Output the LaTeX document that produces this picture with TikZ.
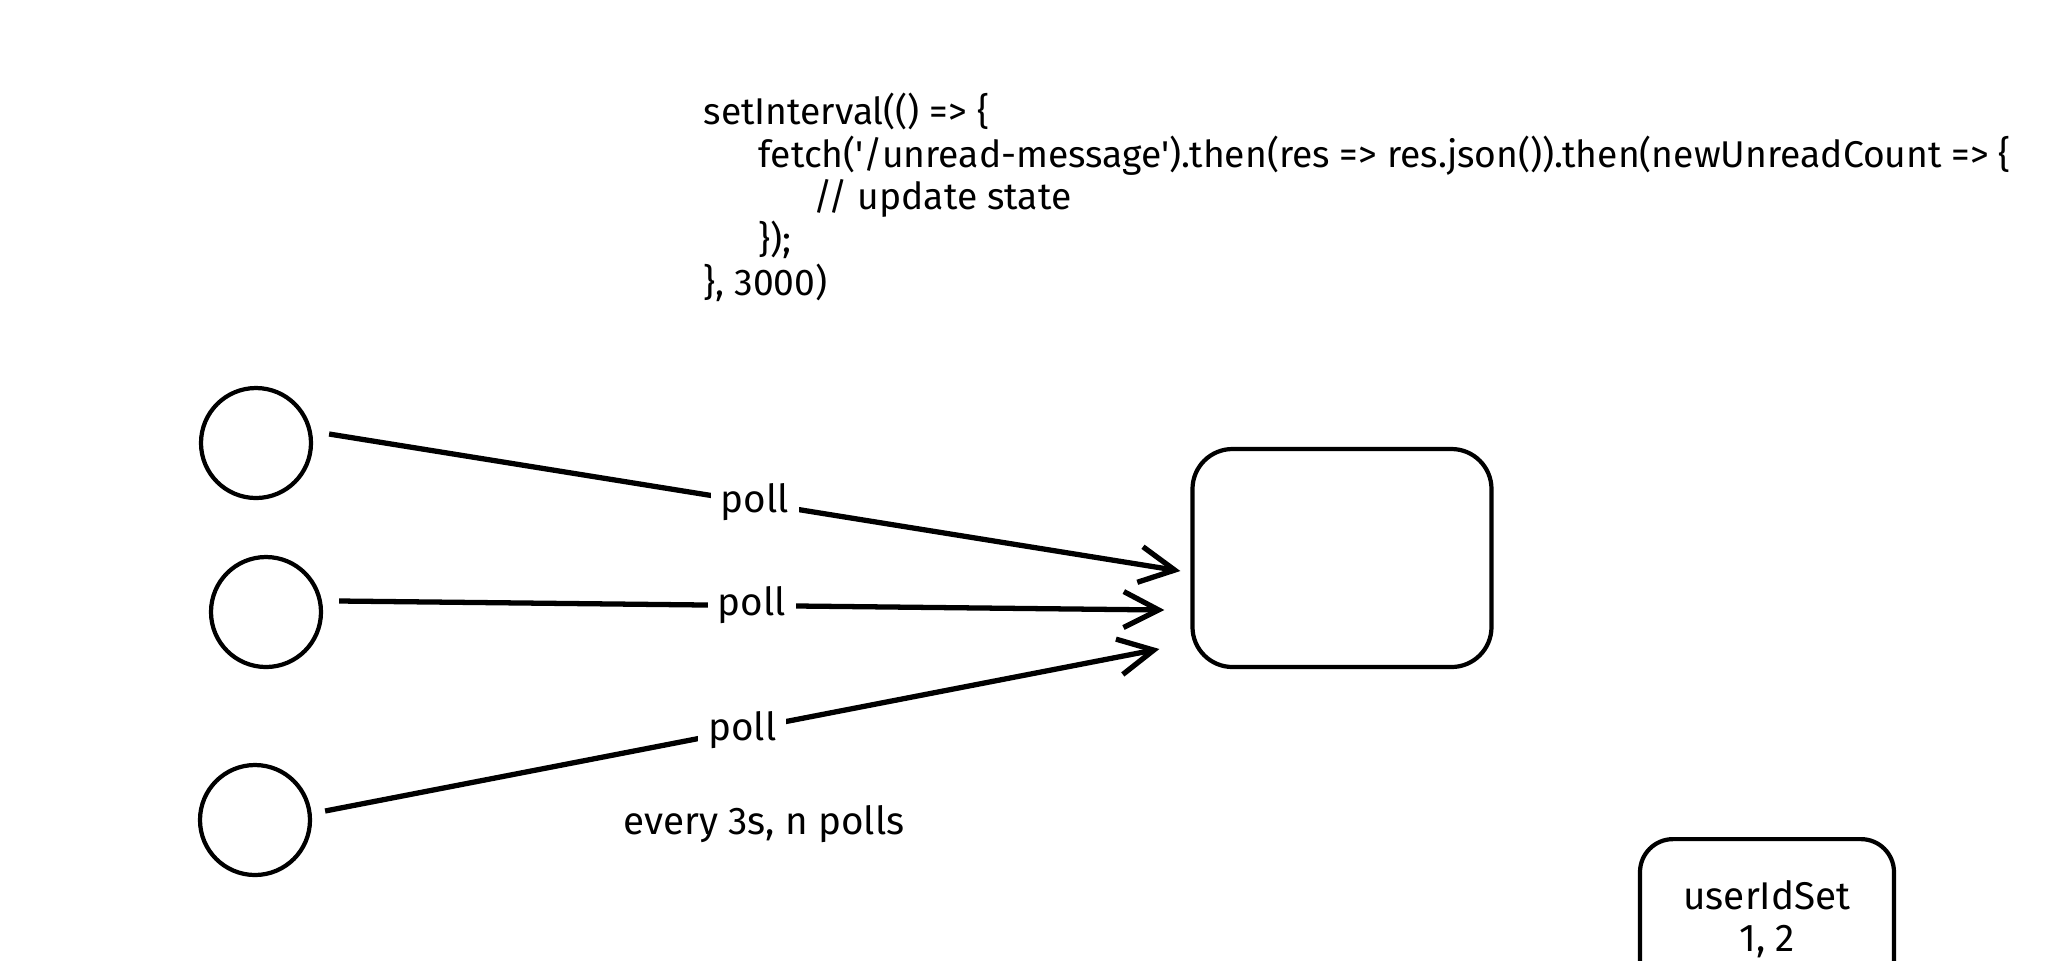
\documentclass[tikz,border=0pt]{standalone}
\usepackage{fontspec}
\setmainfont{Fira Sans}
\usepackage{tikz}
\usetikzlibrary{arrows.meta, calc, positioning}

\begin{document}
\begin{tikzpicture}[
  client/.style={draw, circle, line width=1.2pt, minimum size=1.1cm, inner sep=0pt},
  server/.style={draw, rounded corners=0.4cm, line width=1.2pt, minimum width=2.99cm, minimum height=2.18cm},
  setbox/.style={draw, rounded corners=0.33cm, line width=1.2pt, minimum width=2.54cm,
              anchor=north, align=center, inner ysep=0.3cm, text depth=2cm,
              font=\fontsize{11}{12}\selectfont},
  arrow/.style={-{Straight Barb[length=3.5mm, width=3.6mm]}, line width=1.5pt},
  label/.style={fill=white, inner xsep=0.1cm, inner ysep=0.05cm, font=\fontsize{11}{13}\selectfont},
  code/.style={anchor=north west, inner sep=0pt, align=left, font=\fontsize{10.6}{12.2}\selectfont},
]
\useasboundingbox (0,0) rectangle (20.48,-9.6);

% Code
\node[code] (poller) at (7.03, -0.92) {%
  setInterval(() => \{\\
  \hspace*{0.55cm}fetch(\textquotesingle/unread-message\textquotesingle).then(res => res.json()).then(newUnreadCount => \{\\
  \hspace*{1.1cm}// update state\\
  \hspace*{0.55cm}\});\\
  \}, 3000)};

% Clients
\node[client] (c1) at (2.56, -4.43) {};
\node[client] (c2) at (2.66, -6.12) {};
\node[client] (c3) at (2.55, -8.20) {};

% Server
\node[server] (srv) at (13.42, -5.58) {};

% userIdSet
\node[setbox] (users) at (17.67, -8.37) {\rule{0pt}{0.4cm}userIdSet\\1, 2};

% Polls
\draw[arrow] ([xshift=0.16cm, yshift=0.09cm]c1.east) -- node[label] {poll} ([xshift=-0.1cm, yshift=-0.13cm]srv.west);
\draw[arrow] ([xshift=0.16cm, yshift=0.11cm]c2.east) -- node[label] {poll} ([xshift=-0.26cm, yshift=-0.52cm]srv.west);
\draw[arrow] ([xshift=0.13cm, yshift=0.09cm]c3.east) -- node[label] {poll} ([xshift=-0.31cm, yshift=-0.91cm]srv.west);

\node[label, fill=none] (note) at (7.64, -8.24) {every 3s, n polls};

\end{tikzpicture}
\end{document}
